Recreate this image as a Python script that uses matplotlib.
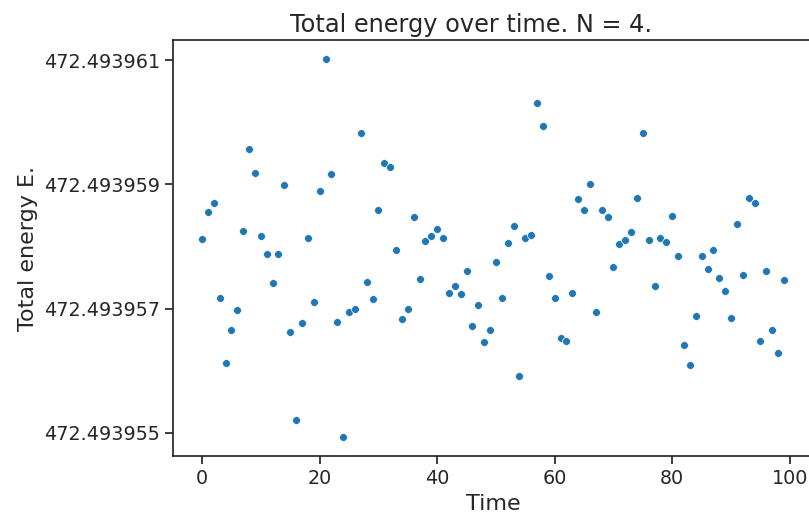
import numpy as np
import matplotlib
matplotlib.use('Agg')
import matplotlib.pyplot as plt

# 数据：时间步与总能量
time = np.arange(100)
energy = [
    472.493958122, 472.493958561, 472.493958695, 472.493957174, 472.493956129,
    472.493956659, 472.493956974, 472.493958256, 472.493959563, 472.493959183,
    472.493958164, 472.493957881, 472.493957415, 472.493957881, 472.493958984,
    472.493956616, 472.493955201, 472.493956772, 472.493958143, 472.493957103,
    472.493958894, 472.493961021, 472.493959161, 472.493956793, 472.493954932,
    472.493956949, 472.493956990, 472.493959826, 472.493957436, 472.493957151,
    472.493958588, 472.493959341, 472.493959273, 472.493957950, 472.493956841,
    472.493956990, 472.493958476, 472.493957479, 472.493958095, 472.493958164,
    472.493958277, 472.493958143, 472.493957259, 472.493957371, 472.493957238,
    472.493957613, 472.493956728, 472.493957055, 472.493956460, 472.493956659,
    472.493957746, 472.493957174, 472.493958058, 472.493958325, 472.493955908,
    472.493958143, 472.493958186, 472.493960314, 472.493959939, 472.493957521,
    472.493957174, 472.493956531, 472.493956482, 472.493957259, 472.493958765,
    472.493958588, 472.493959006, 472.493956949, 472.493958588, 472.493958476,
    472.493957677, 472.493958035, 472.493958100, 472.493958228, 472.493958786,
    472.493959826, 472.493958100, 472.493957367, 472.493958143, 472.493958079,
    472.493958497, 472.493957854, 472.493956418, 472.493956085, 472.493956878,
    472.493957854, 472.493957633, 472.493957942, 472.493957500, 472.493957280,
    472.493956857, 472.493958363, 472.493957543, 472.493958786, 472.493958695,
    472.493956476, 472.493957613, 472.493956659, 472.493956283, 472.493957457,
]
y_ticks = [472.493955, 472.493957, 472.493959, 472.493961]

plt.rcParams['text.color'] = '0.15'
plt.rcParams['axes.labelcolor'] = '0.15'
plt.rcParams['xtick.color'] = '0.15'
plt.rcParams['ytick.color'] = '0.15'
plt.rcParams['axes.edgecolor'] = '0.15'
plt.rcParams['axes.linewidth'] = 1.25

fig = plt.figure(figsize=(8.09, 5.17), dpi=100)
# 原图右侧被裁切，右边框不可见
ax = fig.add_axes([173 / 809, 1 - 456 / 517, 640 / 809, 416 / 517])
ax.spines['right'].set_visible(False)

ax.scatter(time, energy, s=32, color='#1f77b4', edgecolor='white', linewidth=0.5)

ax.set_yticks(y_ticks)
ax.ticklabel_format(axis='y', useOffset=False)
ax.tick_params(labelsize=13.8, width=1.25, length=6)

ax.set_xlabel('Time', fontsize=16)
ax.set_ylabel('Total energy E.', fontsize=16)
ax.set_title('Total energy over time. N = 4.', fontsize=17.3, x=0.466)

fig.savefig('out.png', dpi=100)
